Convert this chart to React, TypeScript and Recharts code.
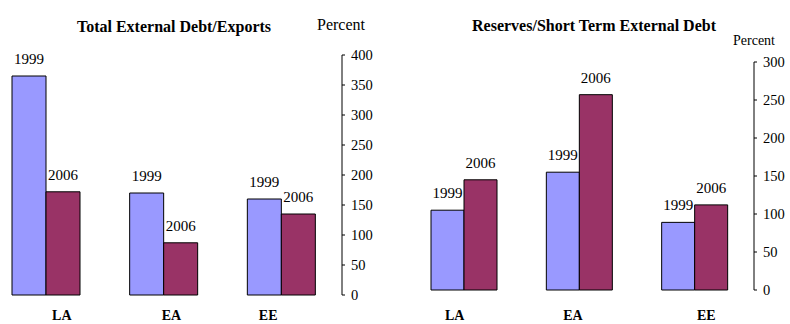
import { Bar, BarChart, LabelList, XAxis, YAxis } from "recharts";

const regions = ["LA", "EA", "EE"];
const years = ["1999", "2006"];

// Total external debt as a share of exports, percent
const debtExports1999 = [365, 170, 160];
const debtExports2006 = [172, 87, 135];
const debtExportsTicks = [0, 50, 100, 150, 200, 250, 300, 350, 400];

// Reserves as a share of short term external debt, percent
const reservesDebt1999 = [105, 155, 89];
const reservesDebt2006 = [145, 257, 112];
const reservesDebtTicks = [0, 50, 100, 150, 200, 250, 300];

const serif = "Liberation Serif, Tinos, DejaVu Serif, serif";
const color1999 = "#9999ff";
const color2006 = "#993366";

type PanelProps = {
  left: number;
  width: number;
  top: number;
  axisHeight: number;
  barSize: number;
  values1999: number[];
  values2006: number[];
  ticks: number[];
  labelShift: number[];
};

function Panel(props: PanelProps) {
  const data = regions.map((region, i) => ({
    region,
    y1999: props.values1999[i],
    y2006: props.values2006[i],
  }));
  const max = props.ticks[props.ticks.length - 1];

  const regionTick = (p: any) => (
    <text
      x={p.x + props.labelShift[p.index]}
      y={320}
      textAnchor="middle"
      style={{ fontFamily: serif, fontWeight: "bold", fontSize: 14 }}
      fill="#000"
    >
      {p.payload.value}
    </text>
  );

  return (
    <div style={{ position: "absolute", left: props.left, top: 0 }}>
      <BarChart
        width={props.width}
        height={324}
        data={data}
        margin={{ top: props.top, right: 0, bottom: 0, left: 0 }}
        barGap={0}
        barSize={props.barSize}
        style={{ fontFamily: serif }}
      >
        <XAxis
          dataKey="region"
          axisLine={false}
          tickLine={false}
          height={props.axisHeight}
          padding={{ left: 0, right: 2 }}
          tick={regionTick}
          interval={0}
        />
        <YAxis
          orientation="right"
          width={48}
          domain={[0, max]}
          ticks={props.ticks}
          interval={0}
          axisLine={{ stroke: "#000" }}
          tickLine={{ stroke: "#000" }}
          tickSize={3}
          tickMargin={6}
          tick={{ fill: "#000", fontSize: 14.5, style: { fontFamily: serif } }}
        />
        <Bar dataKey="y1999" fill={color1999} stroke="#000" strokeWidth={1} isAnimationActive={false}>
          <LabelList
            dataKey="y1999"
            position="top"
            offset={12}
            formatter={() => years[0]}
            fill="#000"
            fontSize={15}
            style={{ fontFamily: serif }}
          />
        </Bar>
        <Bar dataKey="y2006" fill={color2006} stroke="#000" strokeWidth={1} isAnimationActive={false}>
          <LabelList
            dataKey="y2006"
            position="top"
            offset={12}
            formatter={() => years[1]}
            fill="#000"
            fontSize={15}
            style={{ fontFamily: serif }}
          />
        </Bar>
      </BarChart>
    </div>
  );
}

export default function App() {
  return (
    <div
      style={{
        position: "fixed",
        left: 0,
        top: 0,
        width: 790,
        height: 324,
        overflow: "hidden",
        background: "#fff",
        fontFamily: serif,
      }}
    >
      <Panel
        left={-13}
        width={403}
        top={55}
        axisHeight={29}
        barSize={34}
        values1999={debtExports1999}
        values2006={debtExports2006}
        ticks={debtExportsTicks}
        labelShift={[16, 8, -13]}
      />
      <Panel
        left={406}
        width={396}
        top={62}
        axisHeight={34}
        barSize={33}
        values1999={reservesDebt1999}
        values2006={reservesDebt2006}
        ticks={reservesDebtTicks}
        labelShift={[-9, -6, 12]}
      />
      <svg
        width={790}
        height={324}
        style={{ position: "absolute", left: 0, top: 0, pointerEvents: "none", fontFamily: serif }}
      >
        <g fill="#000">
          <text x={174} y={32} textAnchor="middle" fontWeight="bold" fontSize={16}>
            Total External Debt/Exports
          </text>
          <text x={317} y={30} fontSize={16}>
            Percent
          </text>
          <text x={594} y={31} textAnchor="middle" fontWeight="bold" fontSize={16}>
            Reserves/Short Term External Debt
          </text>
          <text x={733} y={45} fontSize={14}>
            Percent
          </text>
        </g>
      </svg>
    </div>
  );
}
